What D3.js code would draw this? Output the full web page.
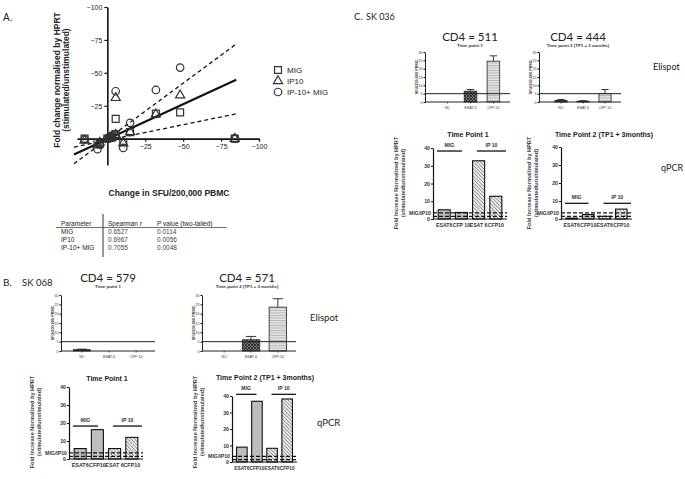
<!DOCTYPE html>
<html><head><meta charset="utf-8">
<script src="https://cdn.jsdelivr.net/npm/d3@7/dist/d3.min.js"></script>
<style>body{margin:0;background:#fff}svg{display:block}</style>
</head><body>
<script>
// ---------------- DATA ----------------
// Panel A scatter (x: change in SFU, y: fold change)
const aXTicks = [-25, -50, -75, -100];
const aYTicks = [-25, -50, -75, -100];
const migX  = [-48, -5.5, -32, -15, -10.5, 15, -84, 6.5, -5.5, -3, -1.5, 0, -2.5, 5];
const migY  = [-20, -15, -19, -5, 2.5, 0, 0, 3, -3.5, -1, -0.5, 0, -1.5, 4];
const ip10X = [-48, -5.5, -32, -15, -10.5, 15, -84, 6.5, -5.5, -3, -1.5, 0, -2.5, 5];
const ip10Y = [-33, -31, -18.5, -5, 3.5, 1.5, 0, 5, -3, -1, -0.5, 0, -1.5, 3];
const comboX = [-48, -5.5, -32, -15, -10.5, 15, -84, 6.5, -5.5, -3, -1.5, 0, -2.5, 5];
const comboY = [-54, -36, -37, -12, 7, 0.5, 0, 8, -3, -1, -0.5, 0, -1.5, 4.5];
const fitLine = [0.53, 0.3];      // slope, intercept
const ciUpper = [0.85, 0.35];
const ciLower = [0.236, 1.2];
const fitRange = [22, -85];
const legendLabels = ["MIG", "IP10", "IP-10+ MIG"];
const tableHeader = ["Parameter", "Spearman r", "P value (two-tailed)"];
const tableParams = ["MIG", "IP10", "IP-10+ MIG"];
const tableR = ["0.6527", "0.6967", "0.7055"];
const tableP = ["0.0114", "0.0056", "0.0048"];

// Elispot
const elispotCats = ["NC", "ESAT-6", "CFP-10"];
const elispotTicks = [0, 5, 10, 15, 20, 25, 30];
const b1Vals = [0.7, 0, 0],   b1Err = [0.3, 0, 0];
const b2Vals = [0, 6, 23.5],  b2Err = [0, 1.8, 4.5];
const c1Vals = [0, 6.5, 24.5], c1Err = [0, 1, 3.2];
const c2Vals = [1, 0.5, 5],   c2Err = [0.5, 0.3, 2.5];

// qPCR
const qpcrTicks = [0, 10, 20, 30, 40];
const qpcrGroups = ["MIG", "IP 10"];
const b3Cats = ["ESAT6", "CFP10", "ESAT 6", "CFP10"];
const b4Cats = ["ESAT6", "CFP10", "ESAT6", "CFP10"];
const c3Cats = ["ESAT6", "CFP 10", "ESAT 6", "CFP10"];
const c4Cats = ["ESAT6", "CFP10", "ESAT6", "CFP10"];
const b3Vals = [5.8, 16.3, 5.8, 12];
const b4Vals = [9, 36.8, 8.3, 38.2];
const c3Vals = [5.2, 3.7, 32.8, 12.8];
const c4Vals = [0.5, 2.5, 1.5, 5.5];
const thresholds = [1.5, 3.4];

// ---------------- DRAW ----------------
const W = 685, H = 479;
const AR = "Liberation Sans, Arial, sans-serif";
const CAL = "Lato, 'Open Sans', sans-serif";
const svg = d3.select("body").append("svg").attr("width", W).attr("height", H)
  .style("background", "#fff");

const defs = svg.append("defs");
const p1 = defs.append("pattern").attr("id", "checker").attr("patternUnits", "userSpaceOnUse")
  .attr("width", 3).attr("height", 3);
p1.append("rect").attr("width", 3).attr("height", 3).attr("fill", "#777");
p1.append("path").attr("d", "M0,0L3,3M3,0L0,3").attr("stroke", "#222").attr("stroke-width", 0.8);
const p2 = defs.append("pattern").attr("id", "hstripe").attr("patternUnits", "userSpaceOnUse")
  .attr("width", 4).attr("height", 2.5);
p2.append("rect").attr("width", 4).attr("height", 2.5).attr("fill", "#e4e4e4");
p2.append("line").attr("x1", 0).attr("x2", 4).attr("y1", 0.5).attr("y2", 0.5)
  .attr("stroke", "#a8a8a8").attr("stroke-width", 0.8);
const p3 = defs.append("pattern").attr("id", "hatch").attr("patternUnits", "userSpaceOnUse")
  .attr("width", 3.5).attr("height", 3.5);
p3.append("rect").attr("width", 3.5).attr("height", 3.5).attr("fill", "#f2f2f2");
p3.append("path").attr("d", "M-1,-1L4.5,4.5M-1,2.5L1,4.5M2.5,-1L4.5,1")
  .attr("stroke", "#555").attr("stroke-width", 0.8);

function txt(g, x, y, s, size, opts = {}) {
  return g.append("text").attr("x", x).attr("y", y).text(s)
    .attr("font-family", opts.family || AR).attr("font-size", size)
    .attr("font-weight", opts.bold ? "bold" : "normal")
    .attr("text-anchor", opts.anchor || "start").attr("fill", opts.fill || "#222");
}

// ===== Panel A =====
const A = svg.append("g");
const ax = d3.scaleLinear().domain([20, -100]).range([77, 259]);
const ay = d3.scaleLinear().domain([20, -100]).range([165, 7]);

txt(A, 3, 21, "A.", 10);

function lineFor(p) {
  return fitRange.map(x => [ax(x), ay(p[0] * x + p[1])]);
}
A.append("path").attr("d", d3.line()(lineFor(ciUpper))).attr("stroke", "#111")
  .attr("stroke-width", 1.3).attr("stroke-dasharray", "4,3").attr("fill", "none");
A.append("path").attr("d", d3.line()(lineFor(ciLower))).attr("stroke", "#111")
  .attr("stroke-width", 1.3).attr("stroke-dasharray", "4,3").attr("fill", "none");
A.append("path").attr("d", d3.line()(lineFor(fitLine))).attr("stroke", "#111")
  .attr("stroke-width", 2.2).attr("fill", "none");

const gx = A.append("g").attr("transform", `translate(0,${ay(0)})`)
  .call(d3.axisBottom(ax).tickValues(aXTicks).tickSize(3).tickSizeOuter(0).tickPadding(2));
const gy = A.append("g").attr("transform", `translate(${ax(0)},0)`)
  .call(d3.axisLeft(ay).tickValues(aYTicks).tickSize(3).tickSizeOuter(0).tickPadding(2));
[gx, gy].forEach(g => {
  g.select(".domain").attr("stroke", "#111").attr("stroke-width", 1.6);
  g.selectAll(".tick line").attr("stroke", "#111").attr("stroke-width", 1.2);
  g.selectAll(".tick text").attr("font-family", AR).attr("font-size", 7).attr("fill", "#222");
});

const symSq = d3.symbol().type(d3.symbolSquare).size(48);
const symTr = d3.symbol().type(d3.symbolTriangle).size(36);
const symCi = d3.symbol().type(d3.symbolCircle).size(44);
function scatter(xs, ys, sym) {
  A.append("g").selectAll("path").data(xs).join("path")
    .attr("d", sym).attr("transform", (d, i) => `translate(${ax(d)},${ay(ys[i])})`)
    .attr("fill", "none").attr("stroke", "#333").attr("stroke-width", 1.2);
}
scatter(migX, migY, symSq);
scatter(ip10X, ip10Y, symTr);
scatter(comboX, comboY, symCi);

[symSq, symTr, symCi].forEach((s, i) => {
  A.append("path").attr("d", s).attr("transform", `translate(278,${70 + i * 11})`)
    .attr("fill", "none").attr("stroke", "#333").attr("stroke-width", 1.2);
  txt(A, 287, 73 + i * 11, legendLabels[i], 8);
});

const yT = A.append("g").attr("transform", "translate(60,80) rotate(-90)");
txt(yT, 0, 0, "Fold change normalised by HPRT", 8.5, { bold: true, anchor: "middle" });
txt(yT, 0, 8.5, "(stimulated/unstimulated)", 8.5, { bold: true, anchor: "middle" });
txt(A, 169, 196, "Change in SFU/200,000 PBMC", 8.5, { bold: true, anchor: "middle" });

const colX = [61, 108, 157];
tableHeader.forEach((h, i) => txt(A, colX[i], 225.5, h, 6.5));
A.append("line").attr("x1", 56).attr("x2", 227).attr("y1", 227.5).attr("y2", 227.5)
  .attr("stroke", "#333").attr("stroke-width", 0.7);
A.append("line").attr("x1", 103).attr("x2", 103).attr("y1", 214).attr("y2", 257)
  .attr("stroke", "#333").attr("stroke-width", 1);
tableParams.forEach((p, i) => {
  const y = 233.5 + i * 8.2;
  txt(A, colX[0], y, p, 6.5);
  txt(A, colX[1], y, tableR[i], 6.5, { fill: "#444" });
  txt(A, colX[2], y, tableP[i], 6.5, { fill: "#444" });
});

// ===== Elispot charts =====
const elispotFill = ["#333", "url(#checker)", "url(#hstripe)"];
function elispot(cfg) {
  const g = svg.append("g");
  const y = d3.scaleLinear().domain([0, 30]).range([cfg.y0, cfg.yTop]);
  const x = d3.scaleBand().domain(elispotCats).range([cfg.x0 + cfg.pad, cfg.x1]).padding(cfg.bp);
  g.selectAll("rect.bar").data(cfg.vals).join("rect")
    .attr("x", (d, i) => x(elispotCats[i])).attr("width", x.bandwidth())
    .attr("y", d => y(d)).attr("height", d => cfg.y0 - y(d))
    .attr("fill", (d, i) => elispotFill[i]).attr("stroke", "#222").attr("stroke-width", 0.8)
    .attr("display", d => d > 0 ? null : "none");
  cfg.vals.forEach((v, i) => {
    const e = cfg.err[i];
    if (!(e > 0)) return;
    const cx = x(elispotCats[i]) + x.bandwidth() / 2;
    const cw = x.bandwidth() * 0.3;
    g.append("path").attr("d", `M${cx},${y(v)}V${y(v + e)}M${cx - cw},${y(v + e)}H${cx + cw}`)
      .attr("stroke", "#222").attr("stroke-width", 0.9).attr("fill", "none");
  });
  const ya = g.append("g").attr("transform", `translate(${cfg.x0},0)`)
    .call(d3.axisLeft(y).tickValues(elispotTicks).tickSize(1.5).tickSizeOuter(0).tickPadding(1));
  ya.select(".domain").attr("stroke", "#222").attr("stroke-width", 1);
  ya.selectAll(".tick text").attr("font-family", AR).attr("font-size", 3.6).attr("fill", "#333");
  g.append("line").attr("x1", cfg.x0).attr("x2", cfg.x1).attr("y1", cfg.y0).attr("y2", cfg.y0)
    .attr("stroke", "#222").attr("stroke-width", 1);
  elispotCats.forEach(c => {
    const cx = x(c) + x.bandwidth() / 2;
    g.append("line").attr("x1", cx).attr("x2", cx).attr("y1", cfg.y0).attr("y2", cfg.y0 + 1.5)
      .attr("stroke", "#222").attr("stroke-width", 0.8);
    txt(g, cx, cfg.y0 + 6.5, c, 3.6, { anchor: "middle", fill: "#333" });
  });
  g.append("line").attr("x1", cfg.x0).attr("x2", cfg.x1).attr("y1", y(5)).attr("y2", y(5))
    .attr("stroke", "#222").attr("stroke-width", 1);
  const yt = g.append("g").attr("transform", `translate(${cfg.x0 - 7.5},${(cfg.y0 + cfg.yTop) / 2}) rotate(-90)`);
  txt(yt, 0, 0, "SFU/200,000 PBMC", 3.8, { bold: true, anchor: "middle", fill: "#333" });
  txt(g, cfg.tx, cfg.ty, cfg.title, 11.5, { family: CAL, anchor: "middle" });
  txt(g, cfg.tx, cfg.ty + 6.2, cfg.sub, 4.4, { bold: true, anchor: "middle", fill: "#333" });
}
elispot({ x0: 61, x1: 155, pad: 2, bp: 0.38, y0: 351, yTop: 295, vals: b1Vals, err: b1Err,
  tx: 108, ty: 282, title: "CD4 = 579", sub: "Time point 1" });
elispot({ x0: 202, x1: 296, pad: 4, bp: 0.35, y0: 351, yTop: 295, vals: b2Vals, err: b2Err,
  tx: 247, ty: 282, title: "CD4 = 571", sub: "Time-point 2  (TP1 + 3 months)" });
elispot({ x0: 425, x1: 510, pad: 6, bp: 0.45, y0: 102, yTop: 52, vals: c1Vals, err: c1Err,
  tx: 470, ty: 41, title: "CD4 = 511", sub: "Time point 1" });
elispot({ x0: 539, x1: 621, pad: 6, bp: 0.45, y0: 102, yTop: 52, vals: c2Vals, err: c2Err,
  tx: 578, ty: 41, title: "CD4 = 444", sub: "Time point 2 (TP1 + 3 months)" });

// ===== qPCR charts =====
const qFill = ["#bdbdbd", "#bdbdbd", "url(#hatch)", "url(#hatch)"];
function qpcr(cfg) {
  const g = svg.append("g");
  const y = d3.scaleLinear().domain([0, 40]).range([cfg.y0, cfg.yTop]);
  const idx = d3.range(cfg.cats.length);
  const x = d3.scaleBand().domain(idx).range([cfg.x0, cfg.x1]).padding(0.3);
  const xb = d3.scaleBand().domain(idx).range([cfg.x0, cfg.x1]).padding(0);
  g.selectAll("rect.bar").data(cfg.vals).join("rect")
    .attr("x", (d, i) => x(i)).attr("width", x.bandwidth())
    .attr("y", d => y(d)).attr("height", d => cfg.y0 - y(d))
    .attr("fill", (d, i) => qFill[i]).attr("stroke", "#111").attr("stroke-width", 1.1);
  thresholds.forEach(t => {
    g.append("line").attr("x1", cfg.x0).attr("x2", cfg.x1).attr("y1", y(t)).attr("y2", y(t))
      .attr("stroke", "#111").attr("stroke-width", 1.3).attr("stroke-dasharray", "4,2");
  });
  const ya = g.append("g").attr("transform", `translate(${cfg.x0},0)`)
    .call(d3.axisLeft(y).tickValues(qpcrTicks).tickSize(2).tickSizeOuter(0).tickPadding(1));
  ya.select(".domain").attr("stroke", "#111").attr("stroke-width", 1.2);
  ya.selectAll(".tick line").attr("stroke", "#111");
  ya.selectAll(".tick text").attr("font-family", AR).attr("font-size", 5.2).attr("font-weight", "bold").attr("fill", "#333");
  g.append("line").attr("x1", cfg.x0).attr("x2", cfg.x1).attr("y1", cfg.y0).attr("y2", cfg.y0)
    .attr("stroke", "#111").attr("stroke-width", 1.2);
  cfg.cats.forEach((c, i) => {
    txt(g, x(i) + x.bandwidth() / 2, cfg.y0 + 7.5, c, cfg.tf, { bold: true, anchor: "middle", fill: "#333" });
  });
  txt(g, cfg.x0 - 2, y(thresholds[1]) + 2, "MIG/IP10", 5.2, { bold: true, anchor: "end", fill: "#333" });
  const ly = y(cfg.level);
  const segs = [[xb(0) + 4, xb(1) + xb.bandwidth() - 8], [xb(2) + 7, xb(3) + xb.bandwidth() - 1]];
  segs.forEach((s, i) => {
    g.append("line").attr("x1", s[0]).attr("x2", s[1]).attr("y1", ly).attr("y2", ly)
      .attr("stroke", "#222").attr("stroke-width", 1.4);
    txt(g, (s[0] + s[1]) / 2, ly - 4, qpcrGroups[i], 5.2, { bold: true, anchor: "middle", fill: "#333" });
  });
  const yt = g.append("g").attr("transform", `translate(${cfg.ytx},${cfg.yty}) rotate(-90)`);
  txt(yt, 0, 0, "Fold Increase Normalized by HPRT", 5.6, { bold: true, anchor: "middle", fill: "#444" });
  txt(yt, 0, 6.8, "(stimulated/unstimulated)", 5.6, { bold: true, anchor: "middle", fill: "#444" });
  txt(g, cfg.tx, cfg.ty, cfg.title, 7, { bold: true, anchor: "middle" });
}
qpcr({ x0: 69, x1: 143, y0: 459, yTop: 387, cats: b3Cats, vals: b3Vals, level: 18.3, tf: 5.4,
  ytx: 34, yty: 422, tx: 107, ty: 381, title: "Time Point 1" });
qpcr({ x0: 232, x1: 297, y0: 462, yTop: 396, cats: b4Cats, vals: b4Vals, level: 41, tf: 4.8,
  ytx: 197, yty: 422, tx: 265, ty: 380, title: "Time Point 2 (TP1 + 3months)" });
qpcr({ x0: 433, x1: 507, y0: 219, yTop: 148, cats: c3Cats, vals: c3Vals, level: 38.3, tf: 5.2,
  ytx: 398, yty: 183, tx: 468, ty: 137, title: "Time Point 1" });
qpcr({ x0: 561, x1: 632, y0: 219, yTop: 147, cats: c4Cats, vals: c4Vals, level: 8.7, tf: 5.2,
  ytx: 531, yty: 183, tx: 604, ty: 137, title: "Time Point 2 (TP1 + 3months)" });

// ===== panel labels =====
txt(svg, 354, 20, "C.", 9.5, { family: CAL });
txt(svg, 366, 20, "SK 036", 9, { family: CAL });
txt(svg, 3, 286, "B.", 10, { family: CAL });
txt(svg, 22, 286, "SK 068", 9.5, { family: CAL });
txt(svg, 653, 69.5, "Elispot", 9, { family: CAL });
txt(svg, 310, 321, "Elispot", 9.5, { family: CAL });
txt(svg, 661, 171, "qPCR", 9, { family: CAL });
txt(svg, 317, 426, "qPCR", 9.5, { family: CAL });
</script>
</body></html>
